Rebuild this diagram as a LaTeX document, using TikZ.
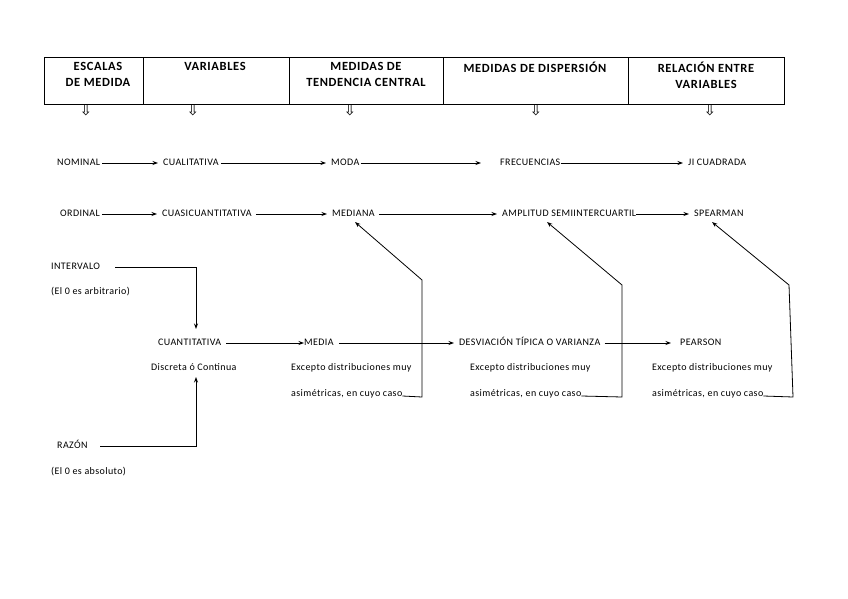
\documentclass[tikz,border=0pt]{standalone}
\usepackage{fontspec}
\setmainfont{Carlito}
\newfontfamily\smallf[LetterSpace=4]{Carlito}
\newfontfamily\headf[LetterSpace=5]{Carlito}
\newfontfamily\arrowfont{DejaVu Sans}
\usetikzlibrary{arrows.meta}
\begin{document}
\begin{tikzpicture}[x=1pt,y=-1pt,
  cell/.style={draw,line width=0.7pt,rectangle,minimum height=47pt,inner sep=0pt,anchor=north west},
  head/.style={font=\headf\fontsize{12.5}{16}\selectfont\bfseries,align=center,anchor=north,inner sep=0pt},
  lbl/.style={font=\smallf\fontsize{10}{12}\selectfont,anchor=west,inner sep=0pt,text height=7pt,text depth=2pt},
  darr/.style={font=\arrowfont\fontsize{15}{15}\selectfont,inner sep=0pt},
  conn/.style={line width=0.8pt,-{Stealth[length=5.5pt,width=4pt]}},
  tconn/.style={conn,shorten >=5pt}]
\useasboundingbox (0,0) rectangle (848,599);
% header cells
\node[cell,minimum width=99pt] (c1) at (44,57) {};
\node[cell,minimum width=146pt] (c2) at (143,57) {};
\node[cell,minimum width=154pt] (c3) at (289,57) {};
\node[cell,minimum width=185pt] (c4) at (443,57) {};
\node[cell,minimum width=156pt] (c5) at (628,57) {};
\node[head] (h1) at (98,62) {ESCALAS\\DE MEDIDA};
\node[head] (h2) at (215,62) {VARIABLES};
\node[head] (h3) at (366,62) {MEDIDAS DE\\TENDENCIA CENTRAL};
\node[head] (h4) at (535,62) {MEDIDAS DE DISPERSIÓN};
\node[head] (h5) at (706,62) {RELACIÓN ENTRE\\VARIABLES};
% small hollow arrows
\node[darr] (d1) at (86,110) {⇩};
\node[darr] (d2) at (193,110) {⇩};
\node[darr] (d3) at (350,110) {⇩};
\node[darr] (d4) at (536,110) {⇩};
\node[darr] (d5) at (710,110) {⇩};
% row 1
\node[lbl] (nom) at (57,163) {NOMINAL};
\node[lbl] (cual) at (163,163) {CUALITATIVA};
\node[lbl] (moda) at (331,163) {MODA};
\node[lbl] (frec) at (500,163) {FRECUENCIAS};
\node[lbl] (ji) at (688,163) {JI CUADRADA};
\coordinate (frecin) at (481,163);
\draw[tconn] (nom.east) ++(2,0) -- (cual.west);
\draw[tconn] (cual.east) ++(2,0) -- (moda.west);
\draw[conn] (moda.east) ++(1,0) -- (frecin);
\draw[tconn] (frec.east) -- (ji.west);
% row 2
\node[lbl] (ord) at (60,214) {ORDINAL};
\node[lbl] (cuasi) at (162,214) {CUASICUANTITATIVA};
\node[lbl] (med) at (332,214) {MEDIANA};
\node[lbl] (amp) at (502,214) {AMPLITUD SEMIINTERCUARTIL};
\node[lbl] (spe) at (694,214) {SPEARMAN};
\draw[tconn] (ord.east) ++(2,0) -- (cuasi.west);
\draw[tconn] (cuasi.east) ++(4,0) -- (med.west);
\draw[tconn] (med.east) ++(4,0) -- (amp.west);
\draw[tconn] (amp.east) -- (spe.west);
% intervalo / razon
\node[lbl] (int) at (51,267) {INTERVALO};
\node[lbl] (intn) at (51,292) {(El 0 es arbitrario)};
\node[lbl] (cuant) at (158,343) {CUANTITATIVA};
\node[lbl] (disc) at (151,368) {Discreta ó Continua};
\node[lbl] (raz) at (57,446) {RAZÓN};
\node[lbl] (razn) at (51,472) {(El 0 es absoluto)};
\coordinate (intst) at (115,267);
\coordinate (intc) at (196,267);
\coordinate (cuanttop) at (196,329);
\coordinate (razst) at (100,446);
\coordinate (razc) at (196,446);
\coordinate (discbot) at (196,377);
\draw[conn] (intst) -- (intc) -- (cuanttop);
\draw[conn] (razst) -- (razc) -- (discbot);
% row 3
\node[lbl] (media) at (304,343) {MEDIA};
\node[lbl] (desv) at (459,343) {DESVIACIÓN TÍPICA O VARIANZA};
\node[lbl] (pear) at (680,343) {PEARSON};
\coordinate (pearin) at (671,343);
\draw[conn] (cuant.east) ++(5,0) -- (media.west);
\draw[tconn] (media.east) ++(5,0) -- (desv.west);
\draw[conn] (desv.east) ++(4,0) -- (pearin);
% exceptions
\node[lbl] (e1) at (291,368) {Excepto distribuciones muy};
\node[lbl] (a1) at (291,394) {asimétricas, en cuyo caso};
\node[lbl] (e2) at (470,368) {Excepto distribuciones muy};
\node[lbl] (a2) at (470,394) {asimétricas, en cuyo caso};
\node[lbl] (e3) at (652,368) {Excepto distribuciones muy};
\node[lbl] (a3) at (652,394) {asimétricas, en cuyo caso};
\coordinate (k1a) at (422,397);
\coordinate (k1b) at (422,280);
\coordinate (t1) at (355,222);
\coordinate (k2a) at (622,397);
\coordinate (k2b) at (622,285);
\coordinate (t2) at (547,222);
\coordinate (k3a) at (793,397);
\coordinate (k3b) at (789,285);
\coordinate (t3) at (712,222);
\draw[conn] (a1.east) ++(0,2) -- (k1a) -- (k1b) -- (t1);
\draw[conn] (a2.east) ++(0,2) -- (k2a) -- (k2b) -- (t2);
\draw[conn] (a3.east) ++(0,2) -- (k3a) -- (k3b) -- (t3);
\end{tikzpicture}
\end{document}
